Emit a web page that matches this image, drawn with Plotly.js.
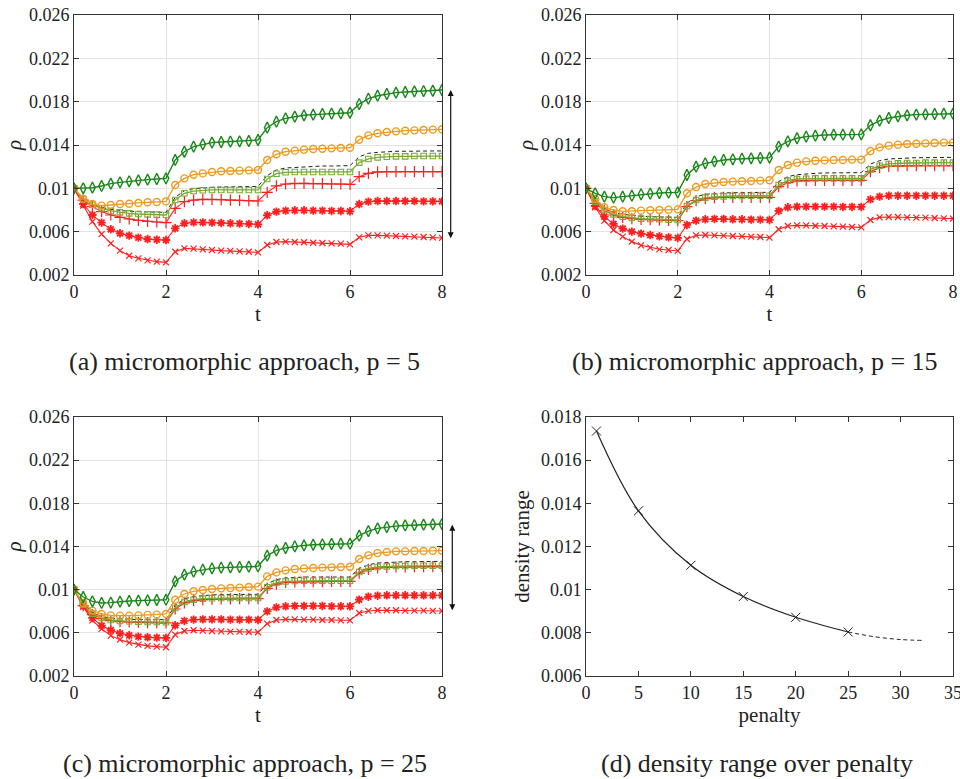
<!DOCTYPE html>
<html><head><meta charset="utf-8">
<script src="https://cdn.plot.ly/plotly-3.0.1.min.js"></script>
<style>html,body{margin:0;padding:0;background:#fff}
#chart text{font-family:"Liberation Serif","DejaVu Serif",serif !important;}</style>
</head><body><div id="chart" style="width:960px;height:779px"></div>
<script>
const t = [0,0.2,0.4,0.6,0.8,1,1.2,1.4,1.6,1.8,2,2.2,2.4,2.6,2.8,3,3.2,3.4,3.6,3.8,4,4.2,4.4,4.6,4.8,5,5.2,5.4,5.6,5.8,6,6.2,6.4,6.6,6.8,7,7.2,7.4,7.6,7.8,8];

// (a) p = 5
const a_diamond = [0.01000,0.01000,0.01006,0.01022,0.01043,0.01055,0.01065,0.01074,0.01080,0.01086,0.01092,0.01262,0.01338,0.01385,0.01406,0.01422,0.01428,0.01431,0.01434,0.01437,0.01446,0.01560,0.01615,0.01646,0.01662,0.01674,0.01680,0.01686,0.01689,0.01692,0.01698,0.01778,0.01828,0.01855,0.01871,0.01883,0.01889,0.01895,0.01898,0.01901,0.01908];
const a_circle = [0.01000,0.00902,0.00855,0.00840,0.00846,0.00855,0.00858,0.00865,0.00871,0.00874,0.00880,0.01031,0.01092,0.01126,0.01138,0.01151,0.01157,0.01160,0.01163,0.01166,0.01169,0.01262,0.01314,0.01338,0.01348,0.01357,0.01363,0.01366,0.01369,0.01372,0.01375,0.01449,0.01489,0.01508,0.01520,0.01526,0.01532,0.01535,0.01538,0.01542,0.01545];
const a_dashed = [0.01000,0.00908,0.00855,0.00825,0.00806,0.00794,0.00788,0.00785,0.00782,0.00778,0.00778,0.00917,0.00978,0.00997,0.01006,0.01009,0.01012,0.01015,0.01015,0.01018,0.01018,0.01117,0.01169,0.01188,0.01194,0.01200,0.01203,0.01206,0.01206,0.01209,0.01209,0.01292,0.01323,0.01332,0.01338,0.01342,0.01342,0.01345,0.01345,0.01345,0.01345];
const a_square = [0.01000,0.00902,0.00849,0.00815,0.00791,0.00778,0.00769,0.00763,0.00760,0.00757,0.00754,0.00892,0.00954,0.00975,0.00982,0.00985,0.00985,0.00985,0.00985,0.00985,0.00985,0.01086,0.01135,0.01148,0.01151,0.01151,0.01151,0.01151,0.01151,0.01151,0.01151,0.01237,0.01271,0.01286,0.01292,0.01295,0.01295,0.01298,0.01298,0.01298,0.01298];
const a_plus = [0.01000,0.00892,0.00831,0.00785,0.00754,0.00732,0.00717,0.00705,0.00695,0.00689,0.00683,0.00815,0.00877,0.00892,0.00898,0.00898,0.00895,0.00892,0.00889,0.00886,0.00883,0.00963,0.01022,0.01040,0.01046,0.01046,0.01043,0.01043,0.01040,0.01040,0.01037,0.01108,0.01138,0.01151,0.01154,0.01154,0.01154,0.01154,0.01154,0.01154,0.01154];
const a_star = [0.01000,0.00855,0.00754,0.00683,0.00622,0.00585,0.00563,0.00545,0.00532,0.00526,0.00523,0.00631,0.00677,0.00686,0.00686,0.00683,0.00680,0.00677,0.00674,0.00671,0.00668,0.00751,0.00785,0.00794,0.00797,0.00797,0.00794,0.00794,0.00791,0.00791,0.00788,0.00855,0.00877,0.00883,0.00883,0.00883,0.00883,0.00883,0.00880,0.00880,0.00880];
const a_cross = [0.01000,0.00840,0.00692,0.00578,0.00492,0.00425,0.00378,0.00354,0.00335,0.00323,0.00317,0.00415,0.00446,0.00443,0.00437,0.00431,0.00425,0.00422,0.00418,0.00415,0.00409,0.00477,0.00505,0.00508,0.00505,0.00502,0.00498,0.00495,0.00492,0.00489,0.00483,0.00548,0.00566,0.00566,0.00563,0.00560,0.00557,0.00554,0.00551,0.00548,0.00542];

// (b) p = 15
const b_diamond = [0.01000,0.00954,0.00923,0.00914,0.00923,0.00932,0.00945,0.00951,0.00957,0.00960,0.00963,0.01123,0.01200,0.01231,0.01249,0.01262,0.01268,0.01274,0.01277,0.01280,0.01283,0.01385,0.01434,0.01462,0.01477,0.01486,0.01492,0.01495,0.01495,0.01498,0.01498,0.01582,0.01625,0.01649,0.01665,0.01674,0.01680,0.01683,0.01686,0.01689,0.01689];
const b_circle = [0.01000,0.00902,0.00825,0.00800,0.00788,0.00788,0.00794,0.00797,0.00800,0.00803,0.00806,0.00954,0.01012,0.01040,0.01052,0.01058,0.01062,0.01065,0.01068,0.01071,0.01074,0.01169,0.01215,0.01237,0.01249,0.01255,0.01258,0.01262,0.01262,0.01265,0.01265,0.01345,0.01378,0.01394,0.01403,0.01409,0.01412,0.01415,0.01418,0.01422,0.01422];
const b_dashed = [0.01000,0.00886,0.00815,0.00778,0.00760,0.00748,0.00742,0.00738,0.00735,0.00732,0.00732,0.00862,0.00923,0.00945,0.00954,0.00957,0.00960,0.00960,0.00963,0.00963,0.00963,0.01062,0.01108,0.01126,0.01135,0.01138,0.01142,0.01142,0.01145,0.01145,0.01145,0.01225,0.01255,0.01271,0.01277,0.01280,0.01283,0.01283,0.01286,0.01286,0.01286];
const b_square = [0.01000,0.00877,0.00800,0.00760,0.00738,0.00726,0.00720,0.00717,0.00714,0.00711,0.00708,0.00837,0.00892,0.00914,0.00923,0.00926,0.00929,0.00929,0.00932,0.00932,0.00932,0.01031,0.01071,0.01086,0.01089,0.01092,0.01092,0.01092,0.01092,0.01092,0.01092,0.01175,0.01209,0.01225,0.01231,0.01234,0.01234,0.01237,0.01237,0.01237,0.01237];
const b_plus = [0.01000,0.00862,0.00794,0.00754,0.00732,0.00720,0.00714,0.00711,0.00708,0.00705,0.00702,0.00831,0.00886,0.00905,0.00914,0.00917,0.00917,0.00917,0.00917,0.00917,0.00917,0.01015,0.01052,0.01068,0.01071,0.01074,0.01074,0.01074,0.01074,0.01074,0.01074,0.01154,0.01191,0.01203,0.01206,0.01209,0.01209,0.01209,0.01209,0.01209,0.01209];
const b_star = [0.01000,0.00837,0.00738,0.00671,0.00628,0.00600,0.00582,0.00569,0.00557,0.00548,0.00542,0.00662,0.00702,0.00714,0.00717,0.00717,0.00714,0.00714,0.00711,0.00711,0.00708,0.00791,0.00825,0.00831,0.00831,0.00831,0.00831,0.00831,0.00828,0.00828,0.00828,0.00898,0.00923,0.00932,0.00932,0.00932,0.00932,0.00932,0.00932,0.00932,0.00932];
const b_cross = [0.01000,0.00825,0.00702,0.00615,0.00554,0.00508,0.00474,0.00452,0.00437,0.00431,0.00422,0.00532,0.00566,0.00569,0.00566,0.00563,0.00560,0.00557,0.00554,0.00551,0.00545,0.00622,0.00652,0.00658,0.00658,0.00655,0.00652,0.00649,0.00646,0.00643,0.00640,0.00708,0.00732,0.00735,0.00735,0.00732,0.00729,0.00729,0.00726,0.00723,0.00720];

// (c) p = 25
const c_diamond = [0.01000,0.00932,0.00892,0.00877,0.00880,0.00889,0.00895,0.00898,0.00901,0.00904,0.00907,0.01077,0.01139,0.01167,0.01185,0.01197,0.01204,0.01207,0.01210,0.01213,0.01216,0.01315,0.01364,0.01386,0.01401,0.01410,0.01416,0.01420,0.01423,0.01426,0.01426,0.01500,0.01543,0.01568,0.01580,0.01589,0.01595,0.01598,0.01602,0.01605,0.01608];
const c_circle = [0.01000,0.00877,0.00806,0.00775,0.00762,0.00759,0.00759,0.00762,0.00766,0.00769,0.00775,0.00907,0.00960,0.00985,0.00997,0.01006,0.01012,0.01015,0.01019,0.01025,0.01028,0.01123,0.01160,0.01179,0.01191,0.01197,0.01201,0.01204,0.01207,0.01210,0.01213,0.01284,0.01318,0.01339,0.01349,0.01355,0.01355,0.01358,0.01358,0.01361,0.01361];
const c_dashed = [0.01000,0.00870,0.00790,0.00753,0.00735,0.00729,0.00725,0.00722,0.00722,0.00722,0.00722,0.00855,0.00914,0.00938,0.00948,0.00951,0.00954,0.00954,0.00957,0.00957,0.00957,0.01056,0.01093,0.01108,0.01114,0.01117,0.01117,0.01117,0.01117,0.01117,0.01117,0.01197,0.01231,0.01247,0.01253,0.01256,0.01259,0.01259,0.01262,0.01262,0.01262];
const c_square = [0.01000,0.00861,0.00778,0.00738,0.00719,0.00710,0.00707,0.00704,0.00701,0.00701,0.00698,0.00830,0.00886,0.00907,0.00917,0.00920,0.00923,0.00923,0.00923,0.00923,0.00923,0.01022,0.01062,0.01077,0.01080,0.01083,0.01083,0.01083,0.01083,0.01083,0.01083,0.01164,0.01197,0.01210,0.01216,0.01219,0.01219,0.01222,0.01222,0.01222,0.01222];
const c_plus = [0.01000,0.00852,0.00769,0.00732,0.00713,0.00704,0.00701,0.00698,0.00695,0.00695,0.00692,0.00821,0.00877,0.00898,0.00907,0.00911,0.00914,0.00914,0.00917,0.00917,0.00917,0.01012,0.01052,0.01068,0.01071,0.01074,0.01074,0.01074,0.01077,0.01077,0.01077,0.01154,0.01188,0.01201,0.01207,0.01210,0.01210,0.01213,0.01213,0.01213,0.01213];
const c_star = [0.01000,0.00852,0.00738,0.00667,0.00624,0.00596,0.00577,0.00565,0.00559,0.00556,0.00553,0.00670,0.00710,0.00722,0.00725,0.00725,0.00725,0.00722,0.00722,0.00722,0.00719,0.00799,0.00836,0.00846,0.00849,0.00849,0.00849,0.00849,0.00846,0.00846,0.00846,0.00907,0.00935,0.00944,0.00948,0.00948,0.00948,0.00948,0.00948,0.00948,0.00948];
const c_cross = [0.01000,0.00840,0.00716,0.00636,0.00574,0.00537,0.00509,0.00491,0.00479,0.00472,0.00466,0.00584,0.00617,0.00624,0.00621,0.00617,0.00614,0.00611,0.00611,0.00608,0.00605,0.00685,0.00719,0.00725,0.00725,0.00722,0.00722,0.00719,0.00719,0.00716,0.00716,0.00784,0.00803,0.00809,0.00809,0.00809,0.00806,0.00806,0.00806,0.00803,0.00803];

// (d) density range over penalty
const penalty = [1, 5, 10, 15, 20, 25];
const densityRange = [0.01735, 0.01365, 0.01113, 0.00968, 0.00872, 0.00804];
const penaltyExtrap = [25, 27.5, 30, 32];
const densityRangeExtrap = [0.00804, 0.00782, 0.00769, 0.00765];

// arrows: density range at p = 5 and p = 25 (top, bottom)
const arrowA = [0.01908, 0.00525];
const arrowC = [0.01602, 0.00795];

const yTickVals = [0.002, 0.006, 0.01, 0.014, 0.018, 0.022, 0.026];
const yTickText = ['0.002', '0.006', '0.01', '0.014', '0.018', '0.022', '0.026'];
const xTickVals = [0, 2, 4, 6, 8];
const dYTickVals = [0.006, 0.008, 0.01, 0.012, 0.014, 0.016, 0.018];
const dYTickText = ['0.006', '0.008', '0.01', '0.012', '0.014', '0.016', '0.018'];
const dXTickVals = [0, 5, 10, 15, 20, 25, 30, 35];

const captions = ['(a) micromorphic approach, p = 5', '(b) micromorphic approach, p = 15', '(c) micromorphic approach, p = 25', '(d) density range over penalty'];

const DG = '#1a871a', OR = '#ee9a1e', LG = '#77ac30', RD = '#ff1f1f';
const FONT = 'Liberation Serif';

function panelTraces(d, xa, ya) {
  const base = {x: t, xaxis: xa, yaxis: ya, type: 'scatter', showlegend: false, hoverinfo: 'skip'};
  return [
    Object.assign({}, base, {y: d.dashed, mode: 'lines', line: {color: '#222', width: 1, dash: '4px,3px'}}),
    Object.assign({}, base, {y: d.cross, mode: 'lines+markers', line: {color: RD, width: 1.1},
      marker: {symbol: 'x-thin-open', size: 6, color: RD, line: {color: RD, width: 1.2}}}),
    Object.assign({}, base, {y: d.star, mode: 'lines+markers', line: {color: RD, width: 1.1},
      marker: {symbol: 'asterisk-open', size: 7, color: RD, line: {color: RD, width: 1.8}}}),
    Object.assign({}, base, {y: d.plus, mode: 'lines+markers', line: {color: RD, width: 1.1},
      marker: {symbol: 'cross-thin-open', size: 8, color: RD, line: {color: RD, width: 1.2}}}),
    Object.assign({}, base, {y: d.square, mode: 'lines+markers', line: {color: LG, width: 1.3},
      marker: {symbol: 'square-open', size: 5.5, color: LG, line: {color: LG, width: 1.1}}}),
    Object.assign({}, base, {y: d.circle, mode: 'lines+markers', line: {color: OR, width: 1.3},
      marker: {symbol: 'circle-open', size: 7, color: OR, line: {color: OR, width: 1.4}}}),
    Object.assign({}, base, {y: d.diamond, mode: 'lines+markers', line: {color: DG, width: 1.4},
      marker: {symbol: 'diamond-tall-open', size: 8, color: DG, line: {color: DG, width: 1.4}}})
  ];
}

const traces = []
  .concat(panelTraces({diamond: a_diamond, circle: a_circle, dashed: a_dashed, square: a_square, plus: a_plus, star: a_star, cross: a_cross}, 'x', 'y'))
  .concat(panelTraces({diamond: b_diamond, circle: b_circle, dashed: b_dashed, square: b_square, plus: b_plus, star: b_star, cross: b_cross}, 'x2', 'y2'))
  .concat(panelTraces({diamond: c_diamond, circle: c_circle, dashed: c_dashed, square: c_square, plus: c_plus, star: c_star, cross: c_cross}, 'x3', 'y3'));

traces.push({x: penaltyExtrap, y: densityRangeExtrap, xaxis: 'x4', yaxis: 'y4', type: 'scatter', mode: 'lines',
  line: {color: '#222', width: 1, dash: '4px,3px', shape: 'spline'}, showlegend: false, hoverinfo: 'skip'});
traces.push({x: penalty, y: densityRange, xaxis: 'x4', yaxis: 'y4', type: 'scatter', mode: 'lines+markers',
  line: {color: '#222', width: 1.2, shape: 'spline', smoothing: 1}, marker: {symbol: 'x-thin-open', size: 9, color: '#222', line: {color: '#222', width: 1}},
  showlegend: false, hoverinfo: 'skip'});

function xAx(domain, anchor, grid, tv, range, title, so) {
  return {domain: domain, anchor: anchor, range: range, tickvals: tv, ticks: 'inside', ticklen: 5, tickcolor: '#333',
    showline: true, linecolor: '#333', linewidth: 1, mirror: 'ticks', showgrid: grid, gridcolor: '#e3e3e3', zeroline: false,
    ticklabeloverflow: 'allow',
    tickfont: {family: FONT, size: 18, color: '#222'},
    title: {text: title, font: {family: FONT, size: 21, color: '#222'}, standoff: so}};
}
function yAx(domain, anchor, grid, tv, tt, range, title, so) {
  return {domain: domain, anchor: anchor, range: range, tickvals: tv, ticktext: tt, ticks: 'inside', ticklen: 5, tickcolor: '#333',
    showline: true, linecolor: '#333', linewidth: 1, mirror: 'ticks', showgrid: grid, gridcolor: '#e3e3e3', zeroline: false,
    ticklabeloverflow: 'allow',
    tickfont: {family: FONT, size: 18, color: '#222'},
    title: {text: title, font: {family: FONT, size: 21, color: '#222'}, standoff: so}};
}

const colL = [74/960, 442/960], colR = [586/960, 953/960];
const rowT = [1 - 275/779, 1 - 15/779], rowB = [1 - 676/779, 1 - 417/779];

const arrowStyle = {text: '', showarrow: true, arrowside: 'end+start', arrowhead: 2, arrowsize: 1, arrowwidth: 1.2,
  arrowcolor: '#111', axref: 'pixel', ax: 0, standoff: 0, startstandoff: 0};

const capFont = {family: FONT, size: 26, color: '#222'};

const layout = {
  width: 960, height: 779, margin: {l: 0, r: 0, t: 0, b: 0}, paper_bgcolor: '#fff', plot_bgcolor: '#fff',
  font: {family: FONT},
  xaxis: xAx(colL, 'y', true, xTickVals, [0, 8], 't', 1),
  yaxis: yAx(rowT, 'x', true, yTickVals, yTickText, [0.002, 0.026], '<i>ρ</i>', 1),
  xaxis2: xAx(colR, 'y2', true, xTickVals, [0, 8], 't', 1),
  yaxis2: yAx(rowT, 'x2', true, yTickVals, yTickText, [0.002, 0.026], '<i>ρ</i>', 1),
  xaxis3: xAx(colL, 'y3', true, xTickVals, [0, 8], 't', 1),
  yaxis3: yAx(rowB, 'x3', true, yTickVals, yTickText, [0.002, 0.026], '<i>ρ</i>', 1),
  xaxis4: xAx(colR, 'y4', false, dXTickVals, [0, 35], 'penalty', 4),
  yaxis4: yAx(rowB, 'x4', false, dYTickVals, dYTickText, [0.006, 0.018], 'density range', 5),
  annotations: [
    Object.assign({}, arrowStyle, {xref: 'paper', yref: 'y', ayref: 'y', x: 450.7/960, y: arrowA[0], ay: arrowA[1]}),
    Object.assign({}, arrowStyle, {xref: 'paper', yref: 'y3', ayref: 'y3', x: 452.3/960, y: arrowC[0], ay: arrowC[1]}),
    {text: captions[0], xref: 'paper', yref: 'paper', x: 245/960, y: 1 - 362/779, showarrow: false, xanchor: 'center', yanchor: 'middle', font: capFont},
    {text: captions[1], xref: 'paper', yref: 'paper', x: 755/960, y: 1 - 362/779, showarrow: false, xanchor: 'center', yanchor: 'middle', font: capFont},
    {text: captions[2], xref: 'paper', yref: 'paper', x: 245/960, y: 1 - 763/779, showarrow: false, xanchor: 'center', yanchor: 'middle', font: capFont},
    {text: captions[3], xref: 'paper', yref: 'paper', x: 757/960, y: 1 - 763/779, showarrow: false, xanchor: 'center', yanchor: 'middle', font: capFont}
  ]
};

Plotly.newPlot('chart', traces, layout, {staticPlot: true, displayModeBar: false});
</script></body></html>
